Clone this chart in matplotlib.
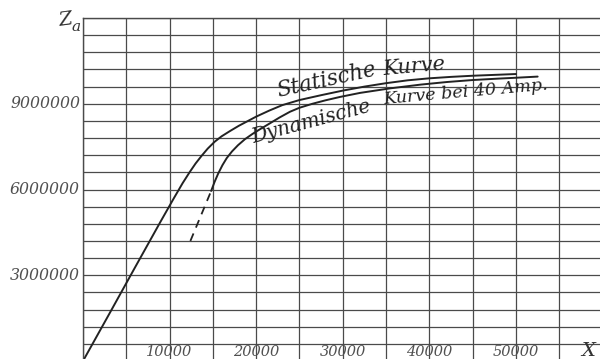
import matplotlib
matplotlib.use("Agg")
import matplotlib.pyplot as plt
from matplotlib.ticker import MultipleLocator

# Static magnetisation curve (X in ampere-turns, Z_a in lines of force)
static_x = [0, 3000, 6000, 9000, 10500, 11500, 12300, 13000, 13700, 14400, 15200, 16000,
            17000, 18000, 19000, 20000, 21500, 23000, 25000, 27500, 30000, 32500,
            35000, 37500, 40000, 42500, 45000, 47500, 50000]
static_y = [0, 1.63e6, 3.27e6, 4.90e6, 5.70e6, 6.22e6, 6.60e6, 6.91e6, 7.18e6, 7.43e6, 7.67e6, 7.86e6,
            8.05e6, 8.23e6, 8.39e6, 8.55e6, 8.76e6, 8.95e6, 9.13e6, 9.30e6, 9.46e6, 9.60e6,
            9.72e6, 9.82e6, 9.89e6, 9.94e6, 9.98e6, 10.01e6, 10.04e6]

# Dynamic curve at 40 A: extrapolated (dashed) part and measured part
dyn_dash_x = [12400, 14800]
dyn_dash_y = [4.20e6, 5.95e6]
dyn_x = [14800, 15200, 15600, 16100, 16600, 17200, 17900, 18700, 19600, 20500,
         21500, 22700, 23900, 25000, 26500, 28000, 29700, 32000, 35500, 39000,
         42000, 45000, 48000, 50000, 52500]
dyn_y = [5.95e6, 6.27e6, 6.55e6, 6.85e6, 7.10e6, 7.33e6, 7.55e6, 7.76e6, 7.95e6, 8.12e6,
         8.30e6, 8.52e6, 8.72e6, 8.86e6, 9.00e6, 9.12e6, 9.24e6, 9.38e6, 9.54e6, 9.67e6,
         9.76e6, 9.83e6, 9.88e6, 9.91e6, 9.95e6]

x_tick_values = [10000, 20000, 30000, 40000, 50000]
y_tick_values = [3000000, 6000000, 9000000]

W, H = 600, 359
fig = plt.figure(figsize=(W / 100, H / 100), dpi=100)
ax = fig.add_axes([83 / W, -2 / H, 517 / W, 343 / H])
ax.set_xlim(0, 59700)
ax.set_ylim(0, 12e6)

grid_col = "#4a4a4a"
ax.xaxis.set_major_locator(MultipleLocator(5000))
ax.yaxis.set_major_locator(MultipleLocator(600000))
ax.grid(True, color=grid_col, linewidth=0.9)
ax.tick_params(length=0, labelbottom=False, labelleft=False)
for side in ("right", "bottom"):
    ax.spines[side].set_visible(False)
for side in ("left", "top"):
    ax.spines[side].set_color(grid_col)
    ax.spines[side].set_linewidth(1.0)

ink = "#222222"
ax.plot(static_x, static_y, color=ink, lw=1.4, solid_capstyle="round",
        solid_joinstyle="round")
ax.plot(dyn_x, dyn_y, color=ink, lw=1.4, solid_capstyle="round",
        solid_joinstyle="round")
ax.plot(dyn_dash_x, dyn_dash_y, color=ink, lw=1.3, dashes=(4.5, 3.5))

lab_font = dict(family="DejaVu Serif", style="italic", color="#505050")
for v in y_tick_values:
    ax.text(-3 * 115.5, v, f"{v}", ha="right", va="center", fontsize=11.3,
            clip_on=False, **lab_font)
for v in x_tick_values:
    ax.text(v, 3.1e5, f"{v}", ha="center", va="center", fontsize=10.5,
            clip_on=False, **lab_font)

fig.text(581 / W, 1 - 356 / H, "X", ha="left", va="baseline", fontsize=14,
         family="DejaVu Serif", style="italic", color="#333333")
fig.text(58 / W, 1 - 26 / H, "Z", ha="left", va="baseline", fontsize=14,
         family="DejaVu Serif", style="italic", color="#333333", rotation=8)
fig.text(71 / W, 1 - 31 / H, "a", ha="left", va="baseline", fontsize=11,
         family="DejaVu Serif", style="italic", color="#333333")

curve_font = dict(family="DejaVu Serif", style="italic", color=ink,
                  ha="left", va="baseline", rotation_mode="anchor")
ax.text(22520, 9.22e6, "Statische", rotation=12.5, fontsize=15.5, **curve_font)
ax.text(34700, 10.02e6, "Kurve", rotation=5, fontsize=15, **curve_font)
ax.text(19635, 7.63e6, "Dynamische", rotation=15, fontsize=14.3, **curve_font)
ax.text(34800, 8.99e6, "Kurve bei 40 Amp.", rotation=5, fontsize=12.6, **curve_font)

fig.savefig("out.png", dpi=100, facecolor="white")
